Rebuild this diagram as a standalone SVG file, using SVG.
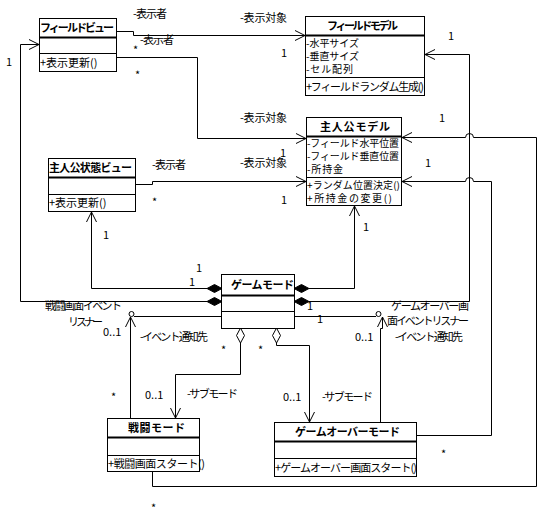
<svg xmlns="http://www.w3.org/2000/svg" width="552" height="521" viewBox="0 0 552 521">
<defs>
<marker id="arr" markerUnits="userSpaceOnUse" markerWidth="12" markerHeight="12" refX="10" refY="5" orient="auto" overflow="visible">
<path d="M0,0 L10,5 L0,10" fill="none" stroke="#000" stroke-width="1"/>
</marker>
</defs>
<style>
text{font-family:"Noto Sans CJK JP","Noto Sans",sans-serif;font-size:11px;fill:#000}
.n{font-weight:bold}
.m{font-size:10px}
.box{fill:#fff;stroke:#000;stroke-width:1}
.sep{stroke:#000;stroke-width:1}
.thk{stroke:#000;stroke-width:2}
.c{fill:none;stroke:#000;stroke-width:1}
.a{fill:none;stroke:#000;stroke-width:1;marker-end:url(#arr)}
.fd{fill:#000;stroke:#000}
.hd{fill:#fff;stroke:#000}
</style>
<rect width="552" height="521" fill="#fff"/>
<g id="connectors">
<path class="a" d="M116,31.5 H133.5 V35.5 H305"/>
<path class="a" d="M116,57.5 H197.5 V138.5 H306"/>
<path class="a" d="M136,184.5 H152.5 V181.5 H306"/>
<path class="a" d="M207,288.5 H91.5 V212"/>
<path class="a" d="M207,301.5 H20.5 V44.5 H39"/>
<path class="a" d="M309,288.5 H354.5 V206"/>
<path class="a" d="M309,301.5 H469.5 V54.5 H425"/>
<path class="a" d="M152.5,472 V486.5 H536.5 V137.5 H473.5 A4,4 0 0 0 465.5,137.5 H402"/>
<path class="a" d="M417,435.5 H491.5 V181.5 H473.5 A4,4 0 0 0 465.5,181.5 H402"/>
<path class="c" d="M221,316.5 H134"/>
<circle class="c" cx="131.5" cy="314" r="2.5"/>
<path class="a" d="M130.5,418 V317"/>
<path class="c" d="M295,316.5 H376"/>
<circle class="c" cx="378.5" cy="314" r="2.5"/>
<path class="a" d="M380.5,422 V328.5 H382.5 V317"/>
<path class="a" d="M240.5,343 V374.5 H175.5 V418"/>
<path class="a" d="M276.5,343 V345.5 H309.5 V422"/>
<polygon class="fd" points="207,288.5 214.5,284.5 222,288.5 214.5,292.5"/>
<polygon class="fd" points="207,301.5 214.5,297.5 222,301.5 214.5,305.5"/>
<polygon class="fd" points="294,288.5 301.5,284.5 309,288.5 301.5,292.5"/>
<polygon class="fd" points="294,301.5 301.5,297.5 309,301.5 301.5,305.5"/>
<polygon class="hd" points="240.5,328 244.5,335.5 240.5,343 236.5,335.5"/>
<polygon class="hd" points="276.5,328 280.5,335.5 276.5,343 272.5,335.5"/>
<text x="133" y="18" textLength="34">-表示者</text>
<text x="240" y="22" textLength="47">-表示対象</text>
<text x="140" y="44" textLength="34">-表示者</text>
<text x="133" y="54">*</text>
<text x="281" y="57">1</text>
<text x="6" y="66">1</text>
<text x="135" y="79">*</text>
<text x="448" y="40">1</text>
<text x="240" y="122" textLength="47">-表示対象</text>
<text x="439" y="122">1</text>
<text x="152" y="169" textLength="34">-表示者</text>
<text x="240" y="167" textLength="47">-表示対象</text>
<text x="280" y="157">1</text>
<text x="425" y="167">1</text>
<text x="152" y="206">*</text>
<text x="281" y="204">1</text>
<text x="103" y="239">1</text>
<text x="363" y="231">1</text>
<text x="196" y="272">1</text>
<text x="189" y="286">1</text>
<text x="307" y="310">1</text>
<text x="317" y="323">1</text>
<text x="391" y="310" textLength="78">ゲームオーバー画</text>
<text x="387" y="325" textLength="82">面イベントリスナー</text>
<text x="45" y="310" textLength="77">戦闘画面イベント</text>
<text x="68" y="326" textLength="35">リスナー</text>
<text x="103" y="336">0..1</text>
<text x="140" y="341" textLength="68">-イベント通知先</text>
<text x="221" y="354">*</text>
<text x="258" y="354">*</text>
<text x="355" y="341">0..1</text>
<text x="395" y="341" textLength="68">-イベント通知先</text>
<text x="111" y="401">*</text>
<text x="145" y="399">0..1</text>
<text x="187" y="398" textLength="51">-サブモード</text>
<text x="283" y="401">0..1</text>
<text x="322" y="401" textLength="51">-サブモード</text>
<text x="441" y="458">*</text>
<text x="151" y="512">*</text>
</g>
<g id="FieldView">
<rect class="box" x="39.5" y="18.5" width="77" height="53"/>
<line class="thk" x1="39.5" y1="37.5" x2="116.5" y2="37.5"/>
<line class="sep" x1="39.5" y1="53.5" x2="116.5" y2="53.5"/>
<text class="n" x="40" y="32" textLength="74">フィールドビュー</text>
<text x="40" y="67">+表示更新()</text>
</g>
<g id="FieldModel">
<rect class="box" x="305.5" y="16.5" width="119" height="79"/>
<line class="thk" x1="305.5" y1="35.5" x2="424.5" y2="35.5"/>
<line class="sep" x1="305.5" y1="77.5" x2="424.5" y2="77.5"/>
<text class="n" x="327" y="30" textLength="71">フィールドモデル</text>
<text class="m" x="306" y="47" textLength="53">-水平サイズ</text>
<text class="m" x="306" y="60" textLength="53">-垂直サイズ</text>
<text class="m" x="306" y="73" textLength="47">-セル配列</text>
<text x="306" y="91" textLength="118">+フィールドランダム生成()</text>
</g>
<g id="HeroModel">
<rect class="box" x="306.5" y="117.5" width="95" height="88"/>
<line class="thk" x1="306.5" y1="136.5" x2="401.5" y2="136.5"/>
<line class="sep" x1="306.5" y1="177.5" x2="401.5" y2="177.5"/>
<text class="n" x="320" y="131" textLength="70">主人公モデル</text>
<text class="m" x="307" y="147" textLength="92">-フィールド水平位置</text>
<text class="m" x="307" y="160" textLength="92">-フィールド垂直位置</text>
<text class="m" x="307" y="173" textLength="36">-所持金</text>
<text class="m" x="307" y="189" textLength="93">+ランダム位置決定()</text>
<text class="m" x="307" y="202" textLength="85">+所持金の変更()</text>
</g>
<g id="HeroStatusView">
<rect class="box" x="48.5" y="158.5" width="87" height="53"/>
<line class="thk" x1="48.5" y1="177.5" x2="135.5" y2="177.5"/>
<line class="sep" x1="48.5" y1="194.5" x2="135.5" y2="194.5"/>
<text class="n" x="49" y="172" textLength="83">主人公状態ビュー</text>
<text x="49" y="207">+表示更新()</text>
</g>
<g id="GameMode">
<rect class="box" x="221.5" y="274.5" width="73" height="54"/>
<line class="thk" x1="221.5" y1="295.5" x2="294.5" y2="295.5"/>
<line class="sep" x1="221.5" y1="311.5" x2="294.5" y2="311.5"/>
<text class="n" x="231" y="289" textLength="63">ゲームモード</text>
</g>
<g id="BattleMode">
<rect class="box" x="107.5" y="418.5" width="92" height="53"/>
<line class="thk" x1="107.5" y1="437.5" x2="199.5" y2="437.5"/>
<line class="sep" x1="107.5" y1="455.5" x2="199.5" y2="455.5"/>
<text class="n" x="128" y="432" textLength="57">戦闘モード</text>
<text x="108" y="468" textLength="97">+戦闘画面スタート()</text>
</g>
<g id="GameOverMode">
<rect class="box" x="274.5" y="422.5" width="142" height="54"/>
<line class="thk" x1="274.5" y1="441.5" x2="416.5" y2="441.5"/>
<line class="sep" x1="274.5" y1="458.5" x2="416.5" y2="458.5"/>
<text class="n" x="295" y="436" textLength="105">ゲームオーバーモード</text>
<text x="275" y="472" textLength="142">+ゲームオーバー画面スタート()</text>
</g>
</svg>
